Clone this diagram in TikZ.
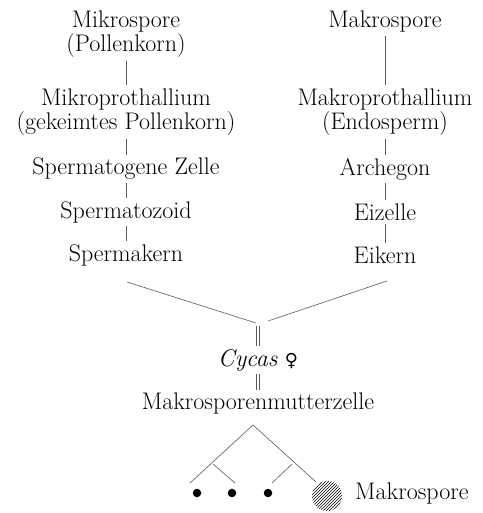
\documentclass[tikz,border=0pt]{standalone}
\usepackage{fontspec}
\newfontfamily\symfont{DejaVu Serif}
\usepackage{tikz}
\usetikzlibrary{positioning,patterns}

\tikzset{
  stage/.style={align=center, inner sep=3pt, font=\fontsize{24}{24}\selectfont},
  link/.style={line width=0.6pt, black!65},
  dblL/.style={link, transform canvas={xshift=-1.3pt}},
  dblR/.style={link, transform canvas={xshift=1.3pt}},
  cell/.style={circle, fill=black, inner sep=0pt, minimum size=8.5pt},
}

\begin{document}
\begin{tikzpicture}[x=1pt, y=-1pt]
  \useasboundingbox (0,0) rectangle (482,513);

  % male side
  \node[stage] (mikro) at (126,34) {Mikrospore\\(Pollenkorn)};
  \node[stage] (mikroth) at (126,112) {Mikroprothallium\\(gekeimtes Pollenkorn)};
  \node[stage] (spzelle) at (126,169) {Spermatogene Zelle};
  \node[stage] (spzoid) at (126,212) {Spermatozoid};
  \node[stage] (spkern) at (126,255) {Spermakern};

  % female side
  \node[stage] (makro) at (385,22) {Makrospore};
  \node[stage] (makroth) at (385,112) {Makroprothallium\\(Endosperm)};
  \node[stage] (archegon) at (385,169) {Archegon};
  \node[stage] (eizelle) at (385,212) {Eizelle};
  \node[stage] (eikern) at (385,255) {Eikern};

  \draw[link] (mikro) -- (mikroth);
  \draw[link] (mikroth) -- (spzelle);
  \draw[link] (spzelle) -- (spzoid);
  \draw[link] (spzoid) -- (spkern);

  \draw[link] (makro) -- (makroth);
  \draw[link] (makroth) -- (archegon);
  \draw[link] (archegon) -- (eizelle);
  \draw[link] (eizelle) -- (eikern);

  % fusion
  \coordinate (spk) at (127,282);
  \coordinate (eik) at (387,281);
  \coordinate (mL) at (256,323);
  \coordinate (mR) at (268,321);
  \coordinate (merge) at (258,326);
  \draw[link] (spk) -- (mL);
  \draw[link] (eik) -- (mR);

  \node[stage] (cycas) at (258,360) {\textit{Cycas} {\symfont\fontsize{18}{20}\selectfont ♀}};
  \node[stage] (mutter) at (258,404) {Makrosporenmutterzelle};
  \draw[dblL] (merge) -- (cycas);
  \draw[dblR] (merge) -- (cycas);
  \draw[dblL] (cycas) -- (mutter);
  \draw[dblR] (cycas) -- (mutter);

  % tetrad
  \coordinate (apex) at (253,425);
  \coordinate (e1) at (190,483);
  \coordinate (e4) at (316,482);
  \coordinate (b2) at (213,464);
  \coordinate (e2) at (235,483);
  \coordinate (b3) at (292,464);
  \coordinate (e3) at (272,483);
  \draw[link] (apex) -- (e1);
  \draw[link] (apex) -- (e4);
  \draw[link] (b2) -- (e2);
  \draw[link] (b3) -- (e3);

  \node[cell] (t1) at (197,493) {};
  \node[cell] (t2) at (232,493) {};
  \node[cell] (t3) at (268,493) {};
  \node[circle, minimum size=30pt, inner sep=0pt, pattern=north east lines] (t4) at (327,496) {};
  \node[stage, anchor=west] (t4lab) at (352,494) {Makrospore};
\end{tikzpicture}
\end{document}
